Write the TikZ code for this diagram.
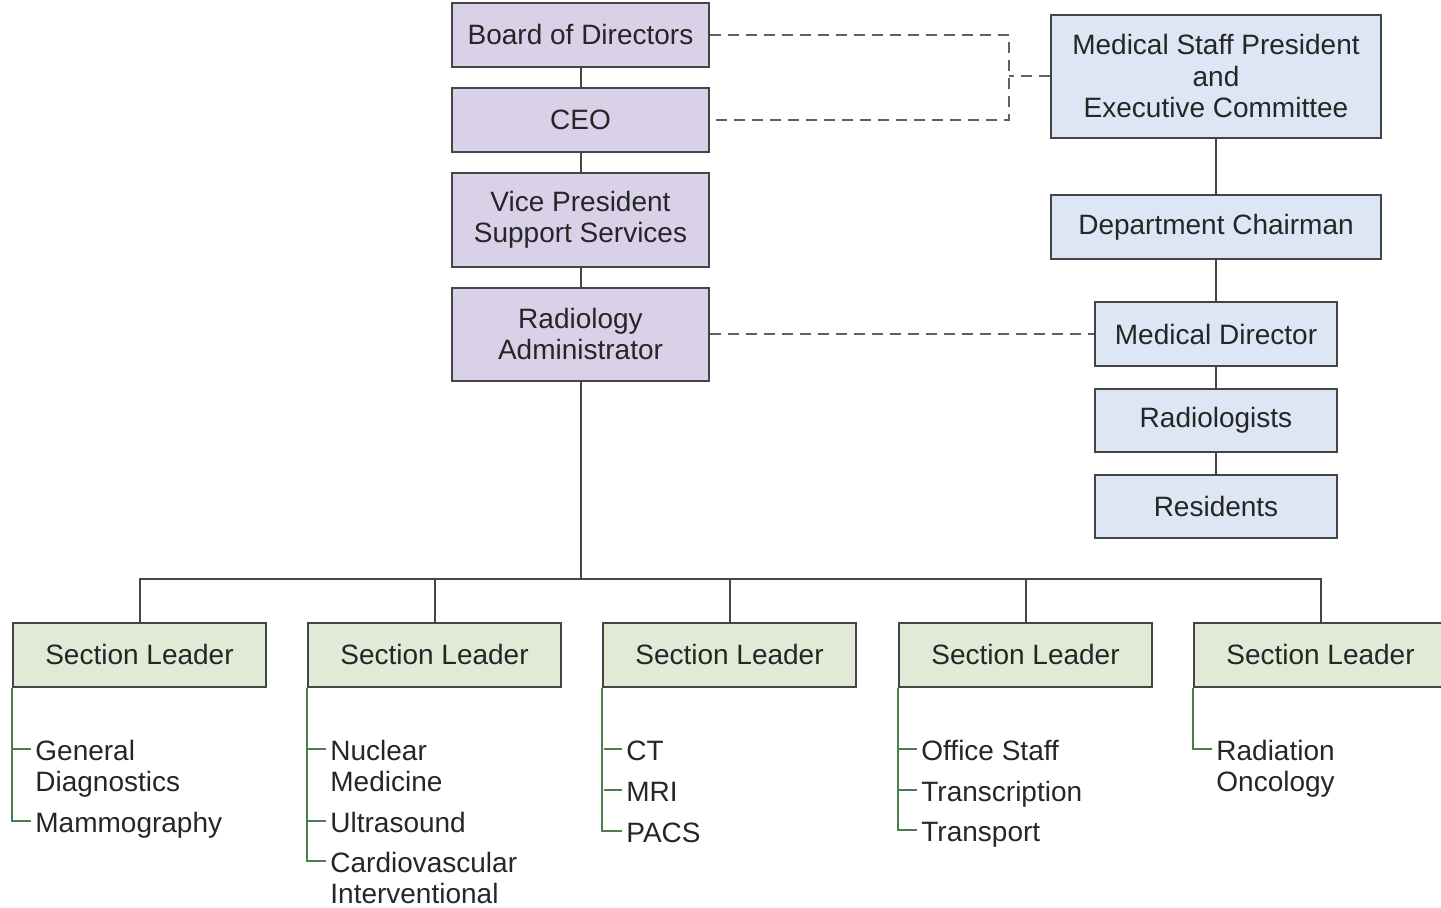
\documentclass[tikz,border=0pt]{standalone}
\usepackage{fontspec}
\setmainfont{Liberation Sans}
\definecolor{purplefill}{HTML}{D9D1E7}
\definecolor{bluefill}{HTML}{DDE6F4}
\definecolor{greenfill}{HTML}{E0EAD6}
\definecolor{boxline}{HTML}{454545}
\definecolor{branchline}{HTML}{4A7D4A}
\tikzset{
  box/.style={draw=boxline, line width=1pt, inner sep=0pt, align=center,
    font=\fontsize{14}{15.75}\selectfont, text=black!85},
  purplebox/.style={box, fill=purplefill, minimum width=128.5pt},
  bluebox/.style={box, fill=bluefill},
  greenbox/.style={box, fill=greenfill, minimum width=126.5pt, minimum height=32pt},
  item/.style={inner sep=0pt, align=left, anchor=base west,
    font=\fontsize{14}{15.5}\selectfont, text=black!85},
  link/.style={draw=boxline, line width=1pt},
  dotlink/.style={draw=boxline!85, line width=1pt, dash pattern=on 5.5pt off 3.5pt},
  branch/.style={draw=branchline, line width=0.9pt}
}
\begin{document}
\begin{tikzpicture}[x=0.5pt,y=-0.5pt]
\useasboundingbox (0,0) rectangle (1441,907);
% hospital side
\node[purplebox, minimum height=32pt] (bod) at (580.5,34.5) {Board of Directors};
\node[purplebox, minimum height=32pt] (ceo) at (580.5,119.5) {CEO};
\node[purplebox, minimum height=47pt] (vp) at (580.5,220) {Vice President\\Support Services};
\node[purplebox, minimum height=46.5pt] (radadmin) at (580.5,334) {Radiology\\Administrator};
\draw[link](bod) -- (ceo);
\draw[link](ceo) -- (vp);
\draw[link](vp) -- (radadmin);
% medical staff side
\node[bluebox, minimum width=165pt, minimum height=61.5pt] (medstaff) at (1216,76) {Medical Staff President\\and\\Executive Committee};
\node[bluebox, minimum width=165pt, minimum height=32pt] (deptchair) at (1216,227) {Department Chairman};
\node[bluebox, minimum width=121pt, minimum height=32pt] (meddir) at (1216,334) {Medical Director};
\node[bluebox, minimum width=121pt, minimum height=31.5pt] (radiologists) at (1216,420) {Radiologists};
\node[bluebox, minimum width=121pt, minimum height=31.5pt] (residents) at (1216,506) {Residents};
\draw[link](medstaff) -- (deptchair);
\draw[link](deptchair) -- (meddir);
\draw[link](meddir) -- (radiologists);
\draw[link](radiologists) -- (residents);
% dashed ties
\coordinate (dj) at (1009,76);
\draw[dotlink](bod.east) -| (dj) |- (ceo.east);
\draw[dotlink](medstaff.west) -- (dj);
\draw[dotlink](radadmin.east) -- (meddir.west);
% section leaders
\coordinate (bus) at (580.5,579);
\node[greenbox] (sl1) at (139.5,654.5) {Section Leader};
\node[greenbox] (sl2) at (434.5,654.5) {Section Leader};
\node[greenbox] (sl3) at (729.5,654.5) {Section Leader};
\node[greenbox] (sl4) at (1025.5,654.5) {Section Leader};
\node[greenbox] (sl5) at (1320.5,654.5) {Section Leader};
\draw[link](radadmin) -- (bus);
\draw[link](sl1.north) -- (sl1.north |- bus) -- (sl5.north |- bus) -- (sl5.north);
\draw[link](sl2.north) -- (sl2.north |- bus);
\draw[link](sl3.north) -- (sl3.north |- bus);
\draw[link](sl4.north) -- (sl4.north |- bus);
% sections
\node[item] (gd) at (35,791) {General\\Diagnostics};
\node[item] (mam) at (35,832) {Mammography};
\draw[branch](sl1.south west) |- ([shift={(-2pt,5.5pt)}]mam.base west);
\draw[branch]([shift={(-2pt,21pt)}]gd.base west) -- +(-9pt,0);
\node[item] (nm) at (330,791) {Nuclear\\Medicine};
\node[item] (us) at (330,832) {Ultrasound};
\node[item] (cvi) at (330,903) {Cardiovascular\\Interventional};
\draw[branch](sl2.south west) |- ([shift={(-2pt,21pt)}]cvi.base west);
\draw[branch]([shift={(-2pt,21pt)}]nm.base west) -- +(-9pt,0);
\draw[branch]([shift={(-2pt,5.5pt)}]us.base west) -- +(-9pt,0);
\node[item] (ct) at (626,760) {CT};
\node[item] (mri) at (626,801) {MRI};
\node[item] (pacs) at (626,842) {PACS};
\draw[branch](sl3.south west) |- ([shift={(-2pt,5.5pt)}]pacs.base west);
\draw[branch]([shift={(-2pt,5.5pt)}]ct.base west) -- +(-9pt,0);
\draw[branch]([shift={(-2pt,5.5pt)}]mri.base west) -- +(-9pt,0);
\node[item] (office) at (921,760) {Office Staff};
\node[item] (transc) at (921,801) {Transcription};
\node[item] (transp) at (921,841) {Transport};
\draw[branch](sl4.south west) |- ([shift={(-2pt,5.5pt)}]transp.base west);
\draw[branch]([shift={(-2pt,5.5pt)}]office.base west) -- +(-9pt,0);
\draw[branch]([shift={(-2pt,5.5pt)}]transc.base west) -- +(-9pt,0);
\node[item] (radonc) at (1216,791) {Radiation\\Oncology};
\draw[branch](sl5.south west) |- ([shift={(-2pt,21pt)}]radonc.base west);
\end{tikzpicture}
\end{document}
